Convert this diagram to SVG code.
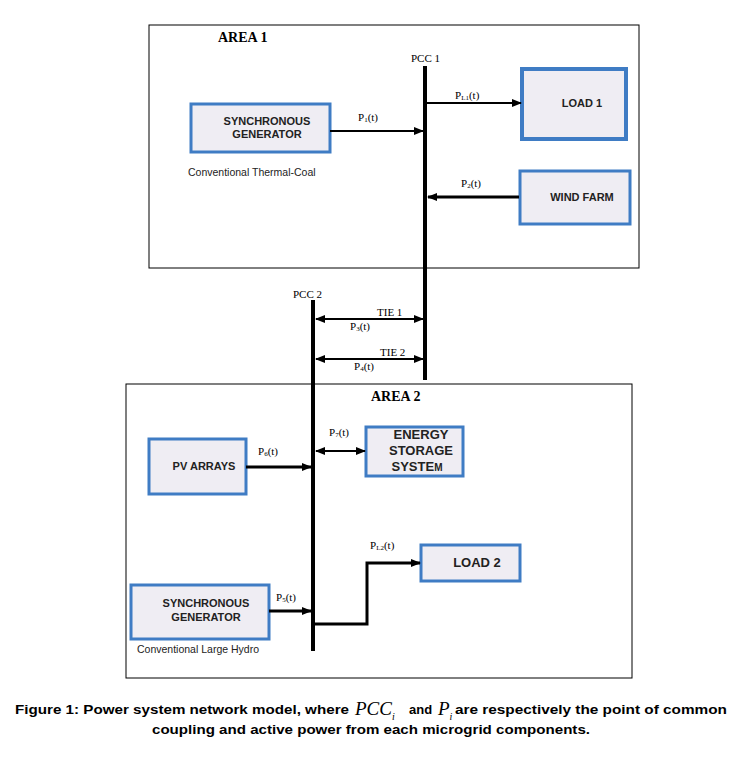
<svg xmlns="http://www.w3.org/2000/svg" width="733" height="760" viewBox="0 0 733 760">
<defs>
<marker id="ah" markerWidth="10" markerHeight="8" refX="9" refY="4" orient="auto-start-reverse" markerUnits="userSpaceOnUse">
<path d="M0,0 L10,4 L0,8 Z" fill="#000"/>
</marker>
<style>
.area{fill:none;stroke:#000;stroke-width:1}
.box{fill:#efedf3;stroke:#3f7cc4;stroke-width:3}
.box4{fill:#efedf3;stroke:#3f7cc4;stroke-width:4}
.bus{stroke:#000;stroke-width:4;fill:none}
.ln{stroke:#000;stroke-width:2;fill:none}
.lnt{stroke:#000;stroke-width:3;fill:none}
.nt{font-family:"Liberation Sans",Arial,sans-serif;font-weight:bold;font-size:11px;fill:#222;text-anchor:middle}
.nt2{font-family:"Liberation Sans",Arial,sans-serif;font-weight:bold;font-size:13px;fill:#222;text-anchor:middle}
.sm{font-family:"Liberation Sans",Arial,sans-serif;font-size:10.5px;fill:#222}
.lab{font-family:"Liberation Serif","Times New Roman",serif;font-size:11px;fill:#000}
.sub{font-size:7px}
.ttl{font-family:"Liberation Serif","Times New Roman",serif;font-weight:bold;font-size:14px;fill:#000}
.cap{font-family:"Liberation Sans",Arial,sans-serif;font-weight:bold;font-size:13px;fill:#000}
.mth{font-family:"Liberation Serif","Times New Roman",serif;font-style:italic;font-size:19px;fill:#000}
</style>
</defs>
<rect width="733" height="760" fill="#fff"/>

<g id="area1">
<rect class="area" x="149" y="25" width="490" height="243"/>
<text class="ttl" x="218" y="42">AREA 1</text>
</g>
<g id="area2">
<rect class="area" x="126" y="384" width="506" height="294"/>
<text class="ttl" x="371" y="401">AREA 2</text>
</g>

<g id="pcc1">
<line class="bus" x1="425" y1="66" x2="425" y2="380"/>
<text class="lab" x="411" y="62">PCC 1</text>
</g>
<g id="pcc2">
<line class="bus" x1="313" y1="300" x2="313" y2="651"/>
<text class="lab" x="293" y="298">PCC 2</text>
</g>

<g id="syngen1">
<rect class="box" x="191" y="104" width="139" height="48"/>
<text class="nt" x="267" y="125">SYNCHRONOUS</text>
<text class="nt" x="267" y="138">GENERATOR</text>
<text class="sm" x="188" y="176">Conventional Thermal-Coal</text>
</g>
<g id="load1">
<rect class="box4" x="522" y="69" width="104" height="70"/>
<text class="nt" x="582" y="107">LOAD 1</text>
</g>
<g id="windfarm">
<rect class="box" x="520" y="171" width="110" height="53"/>
<text class="nt" x="582" y="201">WIND FARM</text>
</g>
<g id="pvarrays">
<rect class="box" x="149" y="439" width="97" height="55"/>
<text class="nt" x="204" y="470">PV ARRAYS</text>
</g>
<g id="ess">
<rect class="box" x="366" y="427" width="97" height="49"/>
<text class="nt2" x="421" y="439">ENERGY</text>
<text class="nt2" x="421" y="455">STORAGE</text>
<text class="nt2" x="417" y="471">SYSTE<tspan font-size="10">M</tspan></text>
</g>
<g id="load2">
<rect class="box" x="421" y="545" width="99" height="36"/>
<text class="nt2" x="477" y="567">LOAD 2</text>
</g>
<g id="syngen2">
<rect class="box" x="131" y="585" width="138" height="54"/>
<text class="nt" x="206" y="607">SYNCHRONOUS</text>
<text class="nt" x="206" y="621">GENERATOR</text>
<text class="sm" x="137" y="653">Conventional Large Hydro</text>
</g>

<g id="connectors">
<line class="ln" x1="330" y1="131" x2="423" y2="131" marker-end="url(#ah)"/>
<line class="ln" x1="427" y1="103" x2="521" y2="103" marker-end="url(#ah)"/>
<line class="lnt" x1="519" y1="197" x2="428" y2="197" marker-end="url(#ah)"/>
<line class="ln" x1="316" y1="319" x2="423" y2="319" marker-start="url(#ah)" marker-end="url(#ah)"/>
<line class="ln" x1="316" y1="359" x2="423" y2="359" marker-start="url(#ah)" marker-end="url(#ah)"/>
<line class="lnt" x1="246" y1="467" x2="311" y2="467" marker-end="url(#ah)"/>
<line class="ln" x1="316" y1="451" x2="365" y2="451" marker-start="url(#ah)" marker-end="url(#ah)"/>
<line class="lnt" x1="269" y1="611" x2="311" y2="611" marker-end="url(#ah)"/>
<path class="lnt" d="M315,624 H367 V563 H420" marker-end="url(#ah)"/>
</g>

<g id="labels">
<text class="lab" x="358" y="121">P<tspan class="sub" dy="1">1</tspan><tspan dy="-1">(t)</tspan></text>
<text class="lab" x="455" y="99">P<tspan class="sub" dy="1">L1</tspan><tspan dy="-1">(t)</tspan></text>
<text class="lab" x="461" y="187">P<tspan class="sub" dy="1">2</tspan><tspan dy="-1">(t)</tspan></text>
<text class="lab" x="377" y="316">TIE 1</text>
<text class="lab" x="350" y="330">P<tspan class="sub" dy="1">3</tspan><tspan dy="-1">(t)</tspan></text>
<text class="lab" x="380" y="356">TIE 2</text>
<text class="lab" x="354" y="370">P<tspan class="sub" dy="1">4</tspan><tspan dy="-1">(t)</tspan></text>
<text class="lab" x="329" y="436">P<tspan class="sub" dy="1">7</tspan><tspan dy="-1">(t)</tspan></text>
<text class="lab" x="258" y="455">P<tspan class="sub" dy="1">6</tspan><tspan dy="-1">(t)</tspan></text>
<text class="lab" x="370" y="549">P<tspan class="sub" dy="1">L2</tspan><tspan dy="-1">(t)</tspan></text>
<text class="lab" x="276" y="601">P<tspan class="sub" dy="1">5</tspan><tspan dy="-1">(t)</tspan></text>
</g>

<g id="caption">
<text class="cap" x="15" y="714" textLength="334" lengthAdjust="spacingAndGlyphs">Figure 1: Power system network model, where</text>
<text class="mth" x="355" y="715">PCC<tspan font-size="10" dy="5">i</tspan></text>
<text class="cap" x="409" y="714">and</text>
<text class="mth" x="438" y="715">P<tspan font-size="10" dy="5">i</tspan></text>
<text class="cap" x="455" y="714" textLength="272" lengthAdjust="spacingAndGlyphs">are respectively the point of common</text>
<text class="cap" x="371" y="734" text-anchor="middle" textLength="438" lengthAdjust="spacingAndGlyphs">coupling and active power from each microgrid components.</text>
</g>
</svg>
